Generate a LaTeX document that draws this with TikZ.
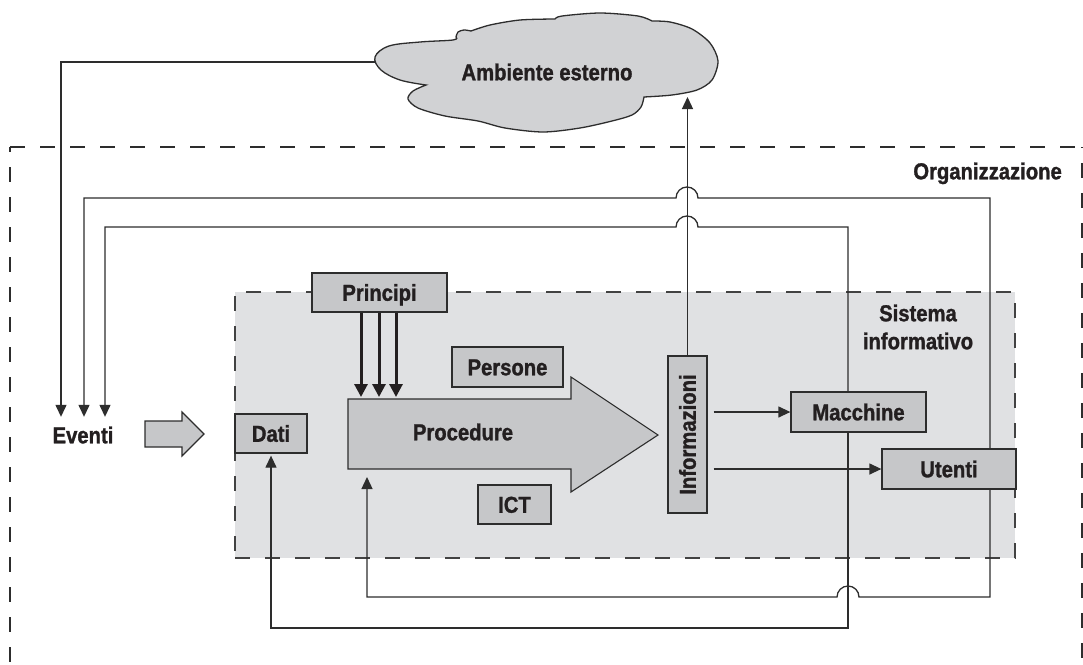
\documentclass[tikz,border=0pt]{standalone}
\usepackage{fontspec}
\setmainfont{Liberation Sans}[FakeStretch=0.88, BoldFont={Liberation Sans Bold}, BoldFeatures={FakeBold=1.3}]
\usetikzlibrary{arrows.meta,calc}
\pgfdeclarelayer{background}
\pgfsetlayers{background,main}
\definecolor{boxgray}{RGB}{198,199,201}
\definecolor{sisgray}{RGB}{224,225,227}
\definecolor{cloudgray}{RGB}{209,210,212}
\definecolor{linecol}{RGB}{45,45,45}
\definecolor{txtcol}{RGB}{35,31,32}
\tikzset{
  lbl/.style={font=\fontsize{23}{28}\selectfont\bfseries, text=txtcol, inner sep=0pt, text height=16.5pt, text depth=0pt},
  box/.style={lbl, draw=linecol, fill=boxgray, line width=1.3pt},
  conn/.style={draw=linecol, line width=1.3pt},
  arr/.style={-{Triangle[length=12pt,width=11pt]}},
  fatarr/.style={draw=txtcol, line width=3pt, -{Triangle[length=13pt,width=13pt]}},
  blockarr/.style={draw=linecol, fill=boxgray, line width=1.1pt, line join=miter},
  orgdash/.style={draw=linecol, line width=1.3pt, dash pattern=on 15pt off 15pt},
  sisbox/.style={draw=linecol!90, fill=sisgray, line width=1.6pt, dash pattern=on 15pt off 15pt},
  cloudst/.style={draw=linecol, fill=cloudgray, line width=1.3pt}
}
\begin{document}
\begin{tikzpicture}[x=1pt,y=-1pt]
\clip (0,0) rectangle (1083,664);

% nodes
\node[lbl, minimum height=36pt] (ev) at (83,435) {Eventi};
\coordinate (cloudL) at (380,62);
\coordinate (cloudB) at (687,97);
\coordinate (procNW) at (348,399);
\coordinate (procfb) at (367,477);

% cloud
\filldraw[cloudst] (426,85)
  -- plot[smooth, tension=0.6] coordinates {(426,85) (400,80) (381,70) (375,57) (389,46) (420,42) (453,40) (456,37)}
  -- plot[smooth] coordinates {(456,37) (458,32) (464,30) (471,31)}
  -- plot[smooth] coordinates {(471,31) (490,25) (520,20) (555,19)}
  -- plot[smooth] coordinates {(555,19) (562,16) (600,13) (638,16) (652,21)}
  -- plot[smooth] coordinates {(652,21) (670,22) (692,29) (710,43) (718,61) (712,80) (697,90) (672,95) (644,97)}
  -- plot[smooth] coordinates {(644,97) (641,107) (632,115) (612,121) (580,128) (543,132) (505,128) (478,121) (445,116) (418,108) (408,99) (413,91) (426,85)}
  -- cycle;
\node[lbl] (amb) at (547,72) {Ambiente esterno};

% procedure arrow
\filldraw[blockarr] (procNW) -- (571,399) -- (571,377) -- (658,435) -- (571,492) -- (571,469) -- (348,469) -- cycle;
\node[lbl] (proc) at (463,432) {Procedure};

% events to data arrow
\filldraw[blockarr] (145,421) -- (182,421) -- (182,412) -- (204,434) -- (182,456) -- (182,447) -- (145,447) -- cycle;

\node[box, minimum width=135pt, minimum height=39pt] (pr) at (379.5,292.5) {Principi};
\node[box, minimum width=111pt, minimum height=40pt] (pe) at (507.5,367) {Persone};
\node[box, minimum width=72pt, minimum height=39pt] (da) at (271,433.5) {Dati};
\node[box, minimum width=73pt, minimum height=39pt] (ict) at (514.5,504.5) {ICT};
\node[box, rotate=90, minimum width=157pt, minimum height=39pt] (inf) at (687.5,434.5) {Informazioni};
\node[box, minimum width=135pt, minimum height=40pt] (mac) at (858.5,412) {Macchine};
\node[box, minimum width=134pt, minimum height=40pt] (ut) at (949,469) {Utenti};
\node[lbl, anchor=east] (org) at (1062,171) {Organizzazione};
\node[font=\fontsize{23}{28}\selectfont\bfseries, text=txtcol, align=center, inner sep=0pt] (sistxt) at (918,327) {Sistema\\informativo};

\begin{pgfonlayer}{background}
\fill[white] (0,0) rectangle (1083,664);
% organisation frame (each side dashed on its own)
\draw[orgdash] (10,147) -- (1082,147);
\draw[orgdash, dash phase=10pt] (10,147) -- (10,700);
\draw[orgdash, dash phase=14pt] (1082,147) -- (1082,700);
% information system region
\node[sisbox, minimum width=780pt, minimum height=266pt, inner sep=0pt] (sis) at (625,425) {};
% feedback connectors
\draw[conn, arr] (cloudL) -| (61,0 |- ev.north);
\draw[conn, arr] (990,0 |- ut.north) -- (990,198) -- (698,198)
   arc[start angle=0, end angle=-180, radius=11] -- (84,198) -- (84,0 |- ev.north);
\draw[conn, arr] (848,0 |- mac.north) -- (848,227) -- (698,227)
   arc[start angle=0, end angle=-180, radius=11] -- (105,227) -- (105,0 |- ev.north);
\draw[conn, arr] (990,0 |- ut.south) -- (990,597) -- (859,597)
   arc[start angle=0, end angle=-180, radius=11] -- (367,597) -- (procfb);
\draw[conn, arr, shorten >=2pt] (848,0 |- mac.south) -- (848,628) -- (271,628) -- (da.south);
\end{pgfonlayer}

\draw[conn, arr] (inf.east) -- (inf.east |- cloudB);

% principles to procedures
\foreach \xx in {361,379,396} \draw[fatarr] (\xx,0 |- pr.south) -- (\xx,397);

% information outputs
\draw[conn, arr, shorten <=6pt] (inf.south |- mac.west) -- (mac.west);
\draw[conn, arr, shorten <=6pt] (inf.south |- ut.west) -- (ut.west);
\end{tikzpicture}
\end{document}
